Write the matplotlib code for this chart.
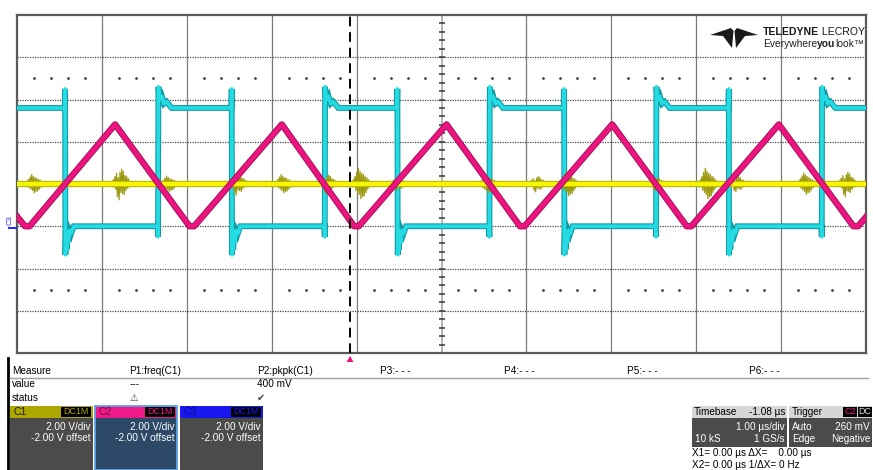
import numpy as np
import matplotlib.pyplot as plt
from matplotlib.patches import Rectangle, Polygon

plt.rcParams['font.family'] = ['Liberation Sans', 'DejaVu Sans']

# scope settings
T_DIV = 1.0      # us/div
V_DIV = 2.0      # V/div, same for all channels
OFFSET = -2.0    # V
TRIG_T = -1.08   # us, timebase delay

# C3 square wave: edge times (us) and levels (V)
c3_edges = [-4.435, -3.341, -2.471, -1.376, -0.518, 0.565, 1.447, 2.529, 3.388, 4.482]
c3_kind = ['fall', 'rise', 'fall', 'rise', 'fall', 'rise', 'fall', 'rise', 'fall', 'rise']
c3_high = 5.6
c3_low = 0.0
# edge shapes (time after edge, volts)
rise_dt = [-0.004, 0.0, 0.004, 0.012, 0.025, 0.045, 0.07, 0.10, 0.16]
rise_v = [0.0, -0.5, 6.6, 6.3, 6.0, 6.15, 5.8, 5.9, 5.6]
fall_dt = [-0.006, -0.002, 0.002, 0.008, 0.016, 0.026, 0.038, 0.052, 0.07, 0.10, 0.16]
fall_v = [5.6, 6.5, -1.35, -0.2, -1.1, -0.3, -0.75, -0.2, -0.35, 0.0, 0.0]

# C2 triangle wave vertices
c2_t = [-5.0, -4.91, -4.855, -3.847, -2.97, -2.915, -1.882, -1.03, -0.975, 0.059,
        0.925, 0.98, 2.012, 2.89, 2.945, 3.976, 4.855, 4.91, 5.0]
c2_v = [0.45, 0.0, 0.0, 4.82, 0.0, 0.0, 4.82, 0.0, 0.0, 4.82,
        0.0, 0.0, 4.82, 0.0, 0.0, 4.82, 0.0, 0.0, 0.42]

# C1: flat at 2 V with switching noise bursts
c1_level = 2.0
burst_t = [-4.79, -3.76, -3.20, -2.38, -1.85, -1.32, -0.94, -0.49,
           0.56, 1.15, 1.51, 2.56, 3.15, 3.51, 4.31, 4.80]
burst_scale = [0.6, 1.0, 0.5, 0.7, 0.6, 0.6, 1.0, 0.4,
               0.6, 0.5, 0.8, 0.4, 1.0, 0.5, 0.7, 0.8]
burst_dt = [-0.12, -0.11, -0.10, -0.09, -0.08, -0.07, -0.06, -0.05, -0.04, -0.03, -0.02, -0.01,
            0.0, 0.01, 0.02, 0.03, 0.04, 0.05, 0.06, 0.07, 0.08, 0.09, 0.10, 0.11, 0.12]
burst_a = [0.05, -0.15, 0.2, -0.1, 0.35, -0.3, 0.55, -0.4, 0.75, -0.5, 0.6, -0.7,
           0.5, -0.6, 0.45, -0.55, 0.35, -0.4, 0.3, -0.25, 0.2, -0.15, 0.1, -0.05, 0.0]
burst_b = [-0.05, 0.2, -0.15, 0.35, -0.25, 0.5, -0.6, 0.3, -0.75, 0.55, -0.4, 0.7,
           -0.45, 0.6, -0.5, 0.4, -0.3, 0.35, -0.2, 0.25, -0.15, 0.1, -0.1, 0.05, 0.0]


def scr(v):
    return (np.asarray(v, dtype=float) + OFFSET) / V_DIV


W, H = 873, 470
fig = plt.figure(figsize=(W / 100, H / 100), dpi=100)
fig.patch.set_facecolor('white')

x0, x1, y0, y1 = 17.3, 865.7, 15.0, 353.0
ax = fig.add_axes([x0 / W, 1 - y1 / H, (x1 - x0) / W, (y1 - y0) / H])
ax.set_xlim(-5, 5)
ax.set_ylim(-4, 4)
ax.set_xticks([])
ax.set_yticks([])
for s in ax.spines.values():
    s.set_color('#5a5a5a')
    s.set_linewidth(1.6)

# graticule
for k in range(-4, 5):
    if k != 0:
        ax.axvline(k, color='#7a7a7a', lw=0.9, zorder=1)
for k in (-3, -2, -1, 1, 2, 3):
    ax.axhline(k, color='#4a4a4a', lw=0.9, ls=(0, (1, 1)), zorder=1)
ax.axvline(0, color='#a8a8a8', lw=1.2, zorder=1)
ax.axhline(0, color='#a8a8a8', lw=1.2, zorder=1)
ticks = np.round(np.arange(-25, 26) * 0.2, 2)
ax.plot(np.zeros(41), ticks[5:46], ls='none', marker='_', ms=5, mew=1.2, color='#444444', zorder=1)
ax.plot(ticks, np.zeros(len(ticks)), ls='none', marker='|', ms=5, mew=1.2, color='#444444', zorder=1)
dots = np.array([t for t in ticks if abs(t - round(t)) > 1e-6])
for yy in (2.5, -2.5):
    ax.plot(dots, np.full(len(dots), yy), ls='none', marker='s', ms=0.9, color='#444444', zorder=1)

# C3 trace
t3, v3 = [-5.0], [c3_high]
for te, kind in zip(c3_edges, c3_kind):
    if kind == 'rise':
        t3 += [te + d for d in rise_dt]
        v3 += rise_v
    else:
        t3 += [te + d for d in fall_dt]
        v3 += fall_v
t3.append(5.0)
v3.append(c3_high)
ax.plot(t3, scr(v3), color='#139ca6', lw=4.2, zorder=3, solid_joinstyle='miter')
ax.plot(t3, scr(v3), color='#24dbe3', lw=2.6, zorder=3)

# C1 trace
for i, (tb, sc) in enumerate(zip(burst_t, burst_scale)):
    shape = burst_a if i % 2 == 0 else burst_b
    ax.plot([tb + d for d in burst_dt], scr([c1_level + sc * a for a in shape]),
            color='#9d9a12', lw=0.9, zorder=4)
ax.plot([-5, 5], scr([c1_level, c1_level]), color='#b8b510', lw=4.6, zorder=4)
ax.plot([-5, 5], scr([c1_level, c1_level]), color='#f6f600', lw=3.0, zorder=4)

# C2 trace
ax.plot(c2_t, scr(c2_v), color='#a80f5c', lw=4.6, zorder=5)
ax.plot(c2_t, scr(c2_v), color='#ec1580', lw=3.2, zorder=5)

# trigger time
ax.axvline(TRIG_T, color='black', lw=1.4, ls=(0, (5, 3)), zorder=6)

# overlay for screen furniture, in pixel units
ui = fig.add_axes([0, 0, 1, 1])
ui.set_xlim(0, W)
ui.set_ylim(H, 0)
ui.axis('off')
ui.patch.set_alpha(0)
renderer = fig.canvas.get_renderer()


def run_text(x, y, parts, **kw):
    # consecutive text pieces with different weights on one line
    for s, wt in parts:
        t = ui.text(x, y, s, fontweight=wt, va='center', ha='left', **kw)
        x += t.get_window_extent(renderer).width


# logo
ui.add_patch(Polygon([(710, 35), (731, 28), (733.5, 31), (732, 48), (723, 36)], closed=True,
                     color='#1a1a1a', lw=0))
ui.add_patch(Polygon([(758, 35), (737, 28), (734.5, 31), (736, 48), (745, 36)], closed=True,
                     color='#1a1a1a', lw=0))
run_text(763, 32, [('TELEDYNE', 'bold'), (' LECROY', 'normal')], fontsize=7.6, color='#1a1a1a')
run_text(763, 44, [('Everywhere', 'normal'), ('you', 'bold'), ('look\u2122', 'normal')],
         fontsize=7.4, color='#222222')

# channel / trigger markers
ui.text(10.5, 220, 'C3', fontsize=5.5, color='#2a2af0', rotation=90, ha='center', va='center')
ui.plot([8.5, 16], [228, 228], color='#2a2af0', lw=1.5)
ui.add_patch(Polygon([(346.5, 362), (353.5, 362), (350, 356)], closed=True, color='#ec1580', lw=0))

# measurement table
ui.plot([8, 8], [358, 470], color='black', lw=2.0)
ui.plot([10, 868], [377.7, 377.7], color='#a0a0a0', lw=1.0)
fs = 7.2
head = [(11.7, 'Measure'), (129.5, 'P1:freq(C1)'), (256.7, 'P2:pkpk(C1)'), (380, 'P3:- - -'),
        (504, 'P4:- - -'), (626.7, 'P5:- - -'), (749, 'P6:- - -')]
for x, s in head:
    ui.text(x, 370.7, s, fontsize=fs, va='center', ha='left')
ui.text(11.7, 384, 'value', fontsize=fs, va='center', ha='left')
ui.text(130, 384, '---', fontsize=fs, va='center', ha='left')
ui.text(256.7, 384, '400 mV', fontsize=fs, va='center', ha='left')
ui.text(11.7, 398, 'status', fontsize=fs, va='center', ha='left')
ui.text(130, 398, '\u26a0', fontsize=7, color='#444444', va='center', ha='left', family='DejaVu Sans')
ui.text(257, 398, '\u2714', fontsize=7, color='#444444', va='center', ha='left', family='DejaVu Sans')

# channel descriptors
chans = [('C1', 10, 93, '#aea700', '#1c1c00', '#4b4b49'),
         ('C2', 95, 177, '#ee1a88', '#7a0a44', '#2c4a68'),
         ('C3', 180, 263, '#1818ee', '#0a0a8a', '#4b4b49')]
for name, xa, xb, hc, tc, bc in chans:
    ui.add_patch(Rectangle((xa, 405.7), xb - xa, 12.3, color=hc, lw=0))
    ui.add_patch(Rectangle((xa, 418), xb - xa, 52, color=bc, lw=0))
    ui.text(xa + 3.5, 412, name, fontsize=7.6, color=tc, va='center', ha='left')
    ui.add_patch(Rectangle((xb - 32, 407.2), 29.5, 9.5, color='black', lw=0))
    ui.text(xb - 17.2, 412, 'DC1M', fontsize=6.4, color=hc, va='center', ha='center')
    ui.text(xb - 2, 426.7, '2.00 V/div', fontsize=fs, color='white', va='center', ha='right')
    ui.text(xb - 2, 438.3, '-2.00 V offset', fontsize=fs, color='white', va='center', ha='right')
ui.add_patch(Rectangle((95, 405.7), 82, 64, fill=False, edgecolor='#5aa2e6', lw=1.3))

# timebase and trigger
ui.add_patch(Rectangle((692, 405.7), 94.5, 12.6, color='#d6d6d6', lw=0))
ui.add_patch(Rectangle((692, 418.3), 94.5, 28.4, color='#4b4b49', lw=0))
ui.add_patch(Rectangle((788.5, 405.7), 83.5, 12.6, color='#d6d6d6', lw=0))
ui.add_patch(Rectangle((788.5, 418.3), 83.5, 28.4, color='#4b4b49', lw=0))
ui.text(694, 412, 'Timebase', fontsize=fs, va='center', ha='left')
ui.text(785, 412, '-1.08 \u00b5s', fontsize=fs, va='center', ha='right')
ui.text(785, 427, '1.00 \u00b5s/div', fontsize=fs, color='white', va='center', ha='right')
ui.text(695, 439, '10 kS', fontsize=fs, color='white', va='center', ha='left')
ui.text(785, 439, '1 GS/s', fontsize=fs, color='white', va='center', ha='right')
ui.text(792, 412, 'Trigger', fontsize=fs, va='center', ha='left')
ui.add_patch(Rectangle((843, 407), 14, 10, color='black', lw=0))
ui.text(850, 412, 'C2', fontsize=6.4, color='#ee1a88', va='center', ha='center')
ui.add_patch(Rectangle((858, 407), 13.5, 10, color='black', lw=0))
ui.text(864.7, 412, 'DC', fontsize=6.4, color='#e0e0e0', va='center', ha='center')
ui.text(792, 427, 'Auto', fontsize=fs, color='white', va='center', ha='left')
ui.text(870, 427, '260 mV', fontsize=fs, color='white', va='center', ha='right')
ui.text(792, 439, 'Edge', fontsize=fs, color='white', va='center', ha='left')
ui.text(870, 439, 'Negative', fontsize=fs, color='white', va='center', ha='right')
ui.text(692, 453.5, 'X1= 0.00 \u00b5s \u0394X=    0.00 \u00b5s', fontsize=fs, va='center', ha='left')
ui.text(692, 465.5, 'X2= 0.00 \u00b5s 1/\u0394X= 0 Hz', fontsize=fs, va='center', ha='left')

fig.savefig('out.png', dpi=100)
